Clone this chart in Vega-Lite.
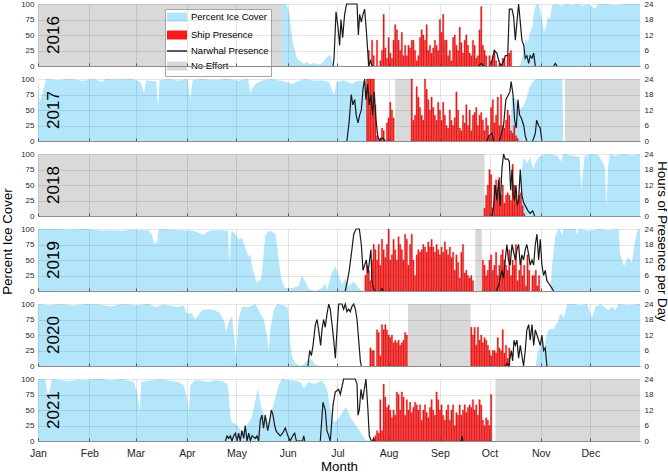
{
"$schema": "https://vega.github.io/schema/vega-lite/v6.json",
"padding": 0,
"spacing": 13,
"bounds": "flush",
"resolve": {"scale": {"color": "independent"}, "legend": {"color": "independent"}},
"config": {
  "view": {"stroke": null},
  "font": "Liberation Sans",
  "axis": {"labelFont": "Liberation Sans", "titleFont": "Liberation Sans", "labelColor": "#262626", "titleColor": "#000000", "titleFontWeight": "normal", "gridColor": "#262626", "gridOpacity": 0.12, "domainColor": "#8c8c8c", "tickColor": "#555555", "labelFontSize": 8}
},
"datasets": {
"yrs": [{"y":2016,"t":"2016"},{"y":2017,"t":"2017"},{"y":2018,"t":"2018"},{"y":2019,"t":"2019"},{"y":2020,"t":"2020"},{"y":2021,"t":"2021"}],
"eff": [{"y":2016,"d":1,"d2":148.5},{"y":2017,"d":217,"d2":227.1},{"y":2017,"d":319.6,"d2":365},{"y":2018,"d":1,"d2":271},{"y":2019,"d":265.4,"d2":269.4},{"y":2020,"d":224.7,"d2":262.6},{"y":2021,"d":277.6,"d2":365}],
"ice": [
{"y":2016,"d":148.5,"v":100},{"y":2016,"d":151,"v":100},{"y":2016,"d":152.8,"v":88},{"y":2016,"d":154,"v":60},{"y":2016,"d":155.2,"v":35},{"y":2016,"d":156.4,"v":25},{"y":2016,"d":157.6,"v":12},{"y":2016,"d":159.4,"v":8},{"y":2016,"d":161.8,"v":4},{"y":2016,"d":163.6,"v":6},{"y":2016,"d":165.4,"v":3},{"y":2016,"d":167.9,"v":5},{"y":2016,"d":170.3,"v":2},{"y":2016,"d":172.7,"v":5},{"y":2016,"d":175.1,"v":12},{"y":2016,"d":176.9,"v":18},{"y":2016,"d":178.2,"v":15},{"y":2016,"d":179.4,"v":0},{"y":2016,"d":292.4,"v":0},{"y":2016,"d":293.6,"v":10},{"y":2016,"d":294.8,"v":30},{"y":2016,"d":296,"v":45},{"y":2016,"d":297.3,"v":38},{"y":2016,"d":298.5,"v":55},{"y":2016,"d":299.7,"v":60},{"y":2016,"d":300.9,"v":85},{"y":2016,"d":302.1,"v":100},{"y":2016,"d":303.9,"v":98},{"y":2016,"d":305.7,"v":75},{"y":2016,"d":306.9,"v":55},{"y":2016,"d":308.1,"v":62},{"y":2016,"d":309.4,"v":80},{"y":2016,"d":310.6,"v":75},{"y":2016,"d":311.8,"v":98},{"y":2016,"d":314.8,"v":100},{"y":2016,"d":317.8,"v":97},{"y":2016,"d":321,"v":100},{"y":2016,"d":324,"v":98},{"y":2016,"d":327,"v":100},{"y":2016,"d":330,"v":97},{"y":2016,"d":334,"v":100},{"y":2016,"d":336,"v":96},{"y":2016,"d":337.8,"v":92},{"y":2016,"d":339.6,"v":99},{"y":2016,"d":344,"v":100},{"y":2016,"d":350,"v":98},{"y":2016,"d":356,"v":100},{"y":2016,"d":365,"v":100},
{"y":2017,"d":1,"v":90},{"y":2017,"d":2,"v":62},{"y":2017,"d":3,"v":70},{"y":2017,"d":4.5,"v":85},{"y":2017,"d":6,"v":100},{"y":2017,"d":12,"v":98},{"y":2017,"d":20,"v":100},{"y":2017,"d":28,"v":97},{"y":2017,"d":35,"v":100},{"y":2017,"d":39.7,"v":95},{"y":2017,"d":42,"v":100},{"y":2017,"d":50,"v":99},{"y":2017,"d":58,"v":100},{"y":2017,"d":63,"v":95},{"y":2017,"d":65,"v":78},{"y":2017,"d":66.5,"v":98},{"y":2017,"d":72.5,"v":96},{"y":2017,"d":73.6,"v":53},{"y":2017,"d":74.5,"v":98},{"y":2017,"d":80,"v":100},{"y":2017,"d":86,"v":97},{"y":2017,"d":91.5,"v":100},{"y":2017,"d":93,"v":68},{"y":2017,"d":94.5,"v":98},{"y":2017,"d":100,"v":100},{"y":2017,"d":108,"v":98},{"y":2017,"d":115,"v":100},{"y":2017,"d":122,"v":97},{"y":2017,"d":128,"v":100},{"y":2017,"d":129.4,"v":78},{"y":2017,"d":130.5,"v":85},{"y":2017,"d":132.4,"v":92},{"y":2017,"d":136,"v":97},{"y":2017,"d":142,"v":100},{"y":2017,"d":150,"v":96},{"y":2017,"d":154.6,"v":92},{"y":2017,"d":157,"v":95},{"y":2017,"d":162,"v":100},{"y":2017,"d":168,"v":97},{"y":2017,"d":172,"v":98},{"y":2017,"d":177,"v":95},{"y":2017,"d":178.8,"v":82},{"y":2017,"d":180.2,"v":76},{"y":2017,"d":181.5,"v":95},{"y":2017,"d":186,"v":98},{"y":2017,"d":190.8,"v":92},{"y":2017,"d":194,"v":97},{"y":2017,"d":199.5,"v":96},{"y":2017,"d":200.5,"v":0},{"y":2017,"d":286.5,"v":0},{"y":2017,"d":287.5,"v":70},{"y":2017,"d":290,"v":68},{"y":2017,"d":292,"v":50},{"y":2017,"d":294,"v":55},{"y":2017,"d":296,"v":65},{"y":2017,"d":298,"v":85},{"y":2017,"d":300,"v":95},{"y":2017,"d":302,"v":100},{"y":2017,"d":310,"v":100},{"y":2017,"d":318,"v":100},{"y":2017,"d":318.6,"v":0},
{"y":2018,"d":293,"v":0},{"y":2018,"d":293.3,"v":70},{"y":2018,"d":294.7,"v":95},{"y":2018,"d":296.6,"v":85},{"y":2018,"d":298.6,"v":95},{"y":2018,"d":300.6,"v":75},{"y":2018,"d":301.6,"v":85},{"y":2018,"d":303.7,"v":95},{"y":2018,"d":305.7,"v":98},{"y":2018,"d":310,"v":100},{"y":2018,"d":315,"v":97},{"y":2018,"d":317.4,"v":88},{"y":2018,"d":318.5,"v":100},{"y":2018,"d":323,"v":98},{"y":2018,"d":328.5,"v":95},{"y":2018,"d":329.5,"v":40},{"y":2018,"d":330.5,"v":70},{"y":2018,"d":331.5,"v":97},{"y":2018,"d":336,"v":100},{"y":2018,"d":340,"v":98},{"y":2018,"d":343.7,"v":80},{"y":2018,"d":344.7,"v":15},{"y":2018,"d":345.7,"v":80},{"y":2018,"d":346.7,"v":100},{"y":2018,"d":350,"v":97},{"y":2018,"d":355,"v":100},{"y":2018,"d":360,"v":98},{"y":2018,"d":365,"v":100},
{"y":2019,"d":1,"v":100},{"y":2019,"d":10,"v":100},{"y":2019,"d":20,"v":99},{"y":2019,"d":30,"v":100},{"y":2019,"d":39.7,"v":97},{"y":2019,"d":45,"v":98},{"y":2019,"d":52,"v":97},{"y":2019,"d":59.6,"v":99},{"y":2019,"d":64,"v":98},{"y":2019,"d":67.9,"v":98},{"y":2019,"d":70,"v":90},{"y":2019,"d":71.1,"v":78},{"y":2019,"d":73,"v":78},{"y":2019,"d":74,"v":100},{"y":2019,"d":80,"v":99},{"y":2019,"d":88,"v":98},{"y":2019,"d":95,"v":97},{"y":2019,"d":98.2,"v":94},{"y":2019,"d":101.2,"v":90},{"y":2019,"d":103,"v":95},{"y":2019,"d":106.2,"v":98},{"y":2019,"d":112.2,"v":98},{"y":2019,"d":115.9,"v":97},{"y":2019,"d":116.5,"v":60},{"y":2019,"d":116.9,"v":45},{"y":2019,"d":117.5,"v":80},{"y":2019,"d":117.9,"v":97},{"y":2019,"d":119.3,"v":95},{"y":2019,"d":122.3,"v":83},{"y":2019,"d":124.3,"v":85},{"y":2019,"d":126.3,"v":70},{"y":2019,"d":128.4,"v":55},{"y":2019,"d":129.4,"v":60},{"y":2019,"d":130.4,"v":40},{"y":2019,"d":132,"v":25},{"y":2019,"d":133.4,"v":12},{"y":2019,"d":134.4,"v":18},{"y":2019,"d":135.4,"v":15},{"y":2019,"d":136.4,"v":30},{"y":2019,"d":138.4,"v":90},{"y":2019,"d":140.5,"v":97},{"y":2019,"d":142.5,"v":95},{"y":2019,"d":144.5,"v":92},{"y":2019,"d":145.5,"v":75},{"y":2019,"d":146.5,"v":50},{"y":2019,"d":148.1,"v":20},{"y":2019,"d":149.6,"v":8},{"y":2019,"d":150.5,"v":5},{"y":2019,"d":154.6,"v":5},{"y":2019,"d":158.6,"v":8},{"y":2019,"d":160.6,"v":25},{"y":2019,"d":162.6,"v":15},{"y":2019,"d":164.7,"v":3},{"y":2019,"d":168.7,"v":0},{"y":2019,"d":172.7,"v":5},{"y":2019,"d":174.7,"v":12},{"y":2019,"d":175.7,"v":2},{"y":2019,"d":178.8,"v":30},{"y":2019,"d":180.8,"v":40},{"y":2019,"d":182.8,"v":25},{"y":2019,"d":184.8,"v":10},{"y":2019,"d":186.8,"v":20},{"y":2019,"d":188.8,"v":8},{"y":2019,"d":191.9,"v":15},{"y":2019,"d":194.9,"v":5},{"y":2019,"d":196.9,"v":0},{"y":2019,"d":310.8,"v":0},{"y":2019,"d":311.8,"v":40},{"y":2019,"d":313.8,"v":90},{"y":2019,"d":315.8,"v":100},{"y":2019,"d":316.8,"v":98},{"y":2019,"d":317.8,"v":90},{"y":2019,"d":318.8,"v":100},{"y":2019,"d":325.9,"v":100},{"y":2019,"d":326.9,"v":90},{"y":2019,"d":327.9,"v":100},{"y":2019,"d":334,"v":97},{"y":2019,"d":340,"v":100},{"y":2019,"d":346,"v":98},{"y":2019,"d":352.1,"v":100},{"y":2019,"d":352.9,"v":60},{"y":2019,"d":355.3,"v":40},{"y":2019,"d":357.7,"v":55},{"y":2019,"d":360.1,"v":45},{"y":2019,"d":361.9,"v":80},{"y":2019,"d":363.8,"v":100},{"y":2019,"d":365,"v":100},
{"y":2020,"d":1,"v":100},{"y":2020,"d":8,"v":98},{"y":2020,"d":15,"v":100},{"y":2020,"d":22,"v":97},{"y":2020,"d":30,"v":100},{"y":2020,"d":38,"v":99},{"y":2020,"d":45,"v":96},{"y":2020,"d":52,"v":100},{"y":2020,"d":60,"v":98},{"y":2020,"d":68,"v":100},{"y":2020,"d":72,"v":95},{"y":2020,"d":76,"v":99},{"y":2020,"d":82,"v":97},{"y":2020,"d":85,"v":95},{"y":2020,"d":89,"v":97},{"y":2020,"d":91,"v":85},{"y":2020,"d":94,"v":85},{"y":2020,"d":96,"v":75},{"y":2020,"d":98,"v":82},{"y":2020,"d":100,"v":90},{"y":2020,"d":104,"v":92},{"y":2020,"d":108,"v":90},{"y":2020,"d":111,"v":85},{"y":2020,"d":113.9,"v":70},{"y":2020,"d":114.7,"v":55},{"y":2020,"d":116.3,"v":70},{"y":2020,"d":118.3,"v":80},{"y":2020,"d":119.9,"v":40},{"y":2020,"d":120.7,"v":15},{"y":2020,"d":122.3,"v":75},{"y":2020,"d":124.3,"v":95},{"y":2020,"d":128.4,"v":95},{"y":2020,"d":132.4,"v":100},{"y":2020,"d":134.4,"v":90},{"y":2020,"d":137.5,"v":75},{"y":2020,"d":139.5,"v":50},{"y":2020,"d":140.5,"v":25},{"y":2020,"d":141.5,"v":60},{"y":2020,"d":143.5,"v":90},{"y":2020,"d":145.5,"v":100},{"y":2020,"d":150.5,"v":97},{"y":2020,"d":152.1,"v":92},{"y":2020,"d":153.5,"v":40},{"y":2020,"d":154.6,"v":15},{"y":2020,"d":156.6,"v":5},{"y":2020,"d":159.6,"v":0},{"y":2020,"d":161.7,"v":3},{"y":2020,"d":163.6,"v":8},{"y":2020,"d":166.7,"v":10},{"y":2020,"d":168.7,"v":2},{"y":2020,"d":170.7,"v":0},{"y":2020,"d":302,"v":0},{"y":2020,"d":303,"v":20},{"y":2020,"d":305,"v":35},{"y":2020,"d":306,"v":45},{"y":2020,"d":307,"v":30},{"y":2020,"d":309,"v":55},{"y":2020,"d":311,"v":60},{"y":2020,"d":313,"v":60},{"y":2020,"d":315,"v":70},{"y":2020,"d":317,"v":85},{"y":2020,"d":319,"v":78},{"y":2020,"d":321,"v":100},{"y":2020,"d":325,"v":100},{"y":2020,"d":329,"v":98},{"y":2020,"d":333,"v":100},{"y":2020,"d":336,"v":78},{"y":2020,"d":338,"v":95},{"y":2020,"d":341,"v":100},{"y":2020,"d":346,"v":90},{"y":2020,"d":348,"v":96},{"y":2020,"d":350,"v":90},{"y":2020,"d":352,"v":100},{"y":2020,"d":358,"v":98},{"y":2020,"d":365,"v":100},
{"y":2021,"d":1,"v":100},{"y":2021,"d":5.4,"v":100},{"y":2021,"d":6.5,"v":80},{"y":2021,"d":7.3,"v":65},{"y":2021,"d":8.3,"v":85},{"y":2021,"d":9.5,"v":100},{"y":2021,"d":15,"v":98},{"y":2021,"d":19.5,"v":96},{"y":2021,"d":25,"v":99},{"y":2021,"d":29.6,"v":98},{"y":2021,"d":35,"v":100},{"y":2021,"d":39.7,"v":100},{"y":2021,"d":45,"v":98},{"y":2021,"d":52,"v":100},{"y":2021,"d":58.9,"v":95},{"y":2021,"d":60.9,"v":80},{"y":2021,"d":62.5,"v":48},{"y":2021,"d":63.5,"v":95},{"y":2021,"d":69.9,"v":98},{"y":2021,"d":75,"v":100},{"y":2021,"d":80,"v":97},{"y":2021,"d":86.1,"v":95},{"y":2021,"d":89.1,"v":90},{"y":2021,"d":91.1,"v":70},{"y":2021,"d":92.1,"v":45},{"y":2021,"d":93.1,"v":90},{"y":2021,"d":96.1,"v":98},{"y":2021,"d":100,"v":97},{"y":2021,"d":104.2,"v":95},{"y":2021,"d":108,"v":98},{"y":2021,"d":112.2,"v":97},{"y":2021,"d":115.3,"v":92},{"y":2021,"d":116.3,"v":80},{"y":2021,"d":117.3,"v":40},{"y":2021,"d":118.3,"v":30},{"y":2021,"d":120.3,"v":28},{"y":2021,"d":122.3,"v":22},{"y":2021,"d":124.3,"v":15},{"y":2021,"d":126.3,"v":20},{"y":2021,"d":128.4,"v":30},{"y":2021,"d":130.4,"v":40},{"y":2021,"d":132.4,"v":65},{"y":2021,"d":134,"v":85},{"y":2021,"d":134.8,"v":70},{"y":2021,"d":136.4,"v":50},{"y":2021,"d":138.4,"v":40},{"y":2021,"d":140.5,"v":30},{"y":2021,"d":142.5,"v":50},{"y":2021,"d":144.5,"v":70},{"y":2021,"d":146.5,"v":90},{"y":2021,"d":148.5,"v":100},{"y":2021,"d":152.6,"v":98},{"y":2021,"d":156.6,"v":97},{"y":2021,"d":159.6,"v":95},{"y":2021,"d":161.7,"v":85},{"y":2021,"d":164.7,"v":95},{"y":2021,"d":167.7,"v":92},{"y":2021,"d":170.7,"v":95},{"y":2021,"d":172.7,"v":98},{"y":2021,"d":175.7,"v":85},{"y":2021,"d":177.5,"v":55},{"y":2021,"d":179.9,"v":30},{"y":2021,"d":182.4,"v":35},{"y":2021,"d":184.8,"v":45},{"y":2021,"d":187.2,"v":55},{"y":2021,"d":189.6,"v":40},{"y":2021,"d":192,"v":30},{"y":2021,"d":194.5,"v":20},{"y":2021,"d":196.9,"v":10},{"y":2021,"d":198.7,"v":3},{"y":2021,"d":200.5,"v":0}
],
"ship": [
{"y":2016,"d":201,"v":6},{"y":2016,"d":203,"v":10},{"y":2016,"d":204,"v":4},{"y":2016,"d":206,"v":10},{"y":2016,"d":208,"v":2},{"y":2016,"d":209,"v":6},{"y":2016,"d":210,"v":20},{"y":2016,"d":211,"v":7},{"y":2016,"d":212,"v":3},{"y":2016,"d":213,"v":11},{"y":2016,"d":214,"v":5},{"y":2016,"d":215,"v":3},{"y":2016,"d":216,"v":10},{"y":2016,"d":217,"v":16},{"y":2016,"d":218,"v":14},{"y":2016,"d":219,"v":10},{"y":2016,"d":220,"v":6},{"y":2016,"d":221,"v":13},{"y":2016,"d":222,"v":4},{"y":2016,"d":223,"v":8},{"y":2016,"d":224,"v":4},{"y":2016,"d":225,"v":8},{"y":2016,"d":226,"v":7},{"y":2016,"d":227,"v":10},{"y":2016,"d":228,"v":10},{"y":2016,"d":229,"v":6},{"y":2016,"d":230,"v":2},{"y":2016,"d":231,"v":4},{"y":2016,"d":232,"v":11},{"y":2016,"d":233,"v":14},{"y":2016,"d":234,"v":12},{"y":2016,"d":235,"v":10},{"y":2016,"d":236,"v":16},{"y":2016,"d":237,"v":6},{"y":2016,"d":238,"v":8},{"y":2016,"d":239,"v":5},{"y":2016,"d":240,"v":7},{"y":2016,"d":241,"v":10},{"y":2016,"d":242,"v":8},{"y":2016,"d":243,"v":6},{"y":2016,"d":244,"v":18},{"y":2016,"d":245,"v":13},{"y":2016,"d":246,"v":20},{"y":2016,"d":247,"v":10},{"y":2016,"d":248,"v":10},{"y":2016,"d":249,"v":4},{"y":2016,"d":250,"v":6},{"y":2016,"d":251,"v":2},{"y":2016,"d":252,"v":11},{"y":2016,"d":253,"v":12},{"y":2016,"d":254,"v":8},{"y":2016,"d":255,"v":6},{"y":2016,"d":256,"v":15},{"y":2016,"d":257,"v":9},{"y":2016,"d":258,"v":5},{"y":2016,"d":259,"v":10},{"y":2016,"d":260,"v":12},{"y":2016,"d":261,"v":8},{"y":2016,"d":262,"v":5},{"y":2016,"d":263,"v":4},{"y":2016,"d":264,"v":10},{"y":2016,"d":265,"v":8},{"y":2016,"d":266,"v":3},{"y":2016,"d":267,"v":4},{"y":2016,"d":268,"v":14},{"y":2016,"d":269,"v":23},{"y":2016,"d":270,"v":8},{"y":2016,"d":271,"v":6},{"y":2016,"d":272,"v":4},{"y":2016,"d":274,"v":4},{"y":2016,"d":275,"v":2},{"y":2016,"d":276,"v":4},{"y":2016,"d":277,"v":6},{"y":2016,"d":278,"v":2},{"y":2016,"d":280,"v":1},{"y":2016,"d":282,"v":3},{"y":2016,"d":283,"v":3},{"y":2016,"d":285,"v":4},{"y":2016,"d":286,"v":5},{"y":2016,"d":287,"v":6},
{"y":2017,"d":200,"v":24},{"y":2017,"d":201,"v":24},{"y":2017,"d":202,"v":24},{"y":2017,"d":203,"v":24},{"y":2017,"d":204,"v":24},{"y":2017,"d":205,"v":14},{"y":2017,"d":206,"v":2},{"y":2017,"d":208,"v":1},{"y":2017,"d":209,"v":5},{"y":2017,"d":210,"v":4},{"y":2017,"d":212,"v":7},{"y":2017,"d":213,"v":9},{"y":2017,"d":214,"v":15},{"y":2017,"d":215,"v":12},{"y":2017,"d":216,"v":9},{"y":2017,"d":227,"v":24},{"y":2017,"d":228,"v":8},{"y":2017,"d":229,"v":10},{"y":2017,"d":230,"v":21},{"y":2017,"d":231,"v":17},{"y":2017,"d":232,"v":13},{"y":2017,"d":233,"v":10},{"y":2017,"d":234,"v":8},{"y":2017,"d":235,"v":24},{"y":2017,"d":236,"v":20},{"y":2017,"d":237,"v":16},{"y":2017,"d":238,"v":12},{"y":2017,"d":239,"v":17},{"y":2017,"d":240,"v":13},{"y":2017,"d":241,"v":10},{"y":2017,"d":242,"v":8},{"y":2017,"d":243,"v":15},{"y":2017,"d":244,"v":12},{"y":2017,"d":245,"v":8},{"y":2017,"d":246,"v":15},{"y":2017,"d":247,"v":10},{"y":2017,"d":248,"v":6},{"y":2017,"d":249,"v":5},{"y":2017,"d":250,"v":12},{"y":2017,"d":251,"v":8},{"y":2017,"d":252,"v":6},{"y":2017,"d":253,"v":9},{"y":2017,"d":254,"v":19},{"y":2017,"d":255,"v":12},{"y":2017,"d":256,"v":5},{"y":2017,"d":257,"v":4},{"y":2017,"d":258,"v":10},{"y":2017,"d":259,"v":7},{"y":2017,"d":260,"v":14},{"y":2017,"d":261,"v":6},{"y":2017,"d":262,"v":12},{"y":2017,"d":263,"v":4},{"y":2017,"d":264,"v":10},{"y":2017,"d":265,"v":11},{"y":2017,"d":266,"v":13},{"y":2017,"d":267,"v":6},{"y":2017,"d":268,"v":10},{"y":2017,"d":269,"v":11},{"y":2017,"d":270,"v":8},{"y":2017,"d":271,"v":4},{"y":2017,"d":272,"v":9},{"y":2017,"d":273,"v":6},{"y":2017,"d":274,"v":2},{"y":2017,"d":275,"v":13},{"y":2017,"d":276,"v":16},{"y":2017,"d":277,"v":7},{"y":2017,"d":278,"v":10},{"y":2017,"d":279,"v":17},{"y":2017,"d":280,"v":6},{"y":2017,"d":281,"v":18},{"y":2017,"d":282,"v":6},{"y":2017,"d":283,"v":5},{"y":2017,"d":284,"v":8},{"y":2017,"d":285,"v":12},{"y":2017,"d":286,"v":10},{"y":2017,"d":287,"v":4},{"y":2017,"d":288,"v":3},{"y":2017,"d":289,"v":6},{"y":2017,"d":290,"v":2},{"y":2017,"d":291,"v":1},
{"y":2018,"d":271,"v":3},{"y":2018,"d":272,"v":8},{"y":2018,"d":273,"v":12},{"y":2018,"d":274,"v":18},{"y":2018,"d":275,"v":16},{"y":2018,"d":276,"v":3},{"y":2018,"d":277,"v":12},{"y":2018,"d":278,"v":14},{"y":2018,"d":279,"v":10},{"y":2018,"d":280,"v":15},{"y":2018,"d":281,"v":8},{"y":2018,"d":282,"v":12},{"y":2018,"d":283,"v":5},{"y":2018,"d":284,"v":8},{"y":2018,"d":285,"v":9},{"y":2018,"d":286,"v":8},{"y":2018,"d":287,"v":6},{"y":2018,"d":288,"v":20},{"y":2018,"d":289,"v":12},{"y":2018,"d":290,"v":10},{"y":2018,"d":291,"v":6},{"y":2018,"d":292,"v":8},{"y":2018,"d":293,"v":9},{"y":2018,"d":294,"v":4},{"y":2018,"d":295,"v":1},
{"y":2019,"d":199,"v":6},{"y":2019,"d":200,"v":10},{"y":2019,"d":201,"v":8},{"y":2019,"d":202,"v":4},{"y":2019,"d":203,"v":12},{"y":2019,"d":204,"v":18},{"y":2019,"d":205,"v":16},{"y":2019,"d":206,"v":12},{"y":2019,"d":207,"v":18},{"y":2019,"d":208,"v":10},{"y":2019,"d":209,"v":20},{"y":2019,"d":210,"v":16},{"y":2019,"d":211,"v":13},{"y":2019,"d":212,"v":18},{"y":2019,"d":213,"v":24},{"y":2019,"d":214,"v":12},{"y":2019,"d":215,"v":14},{"y":2019,"d":216,"v":20},{"y":2019,"d":217,"v":16},{"y":2019,"d":218,"v":12},{"y":2019,"d":219,"v":21},{"y":2019,"d":220,"v":18},{"y":2019,"d":221,"v":16},{"y":2019,"d":222,"v":12},{"y":2019,"d":223,"v":22},{"y":2019,"d":224,"v":20},{"y":2019,"d":225,"v":10},{"y":2019,"d":226,"v":18},{"y":2019,"d":227,"v":22},{"y":2019,"d":228,"v":12},{"y":2019,"d":229,"v":6},{"y":2019,"d":230,"v":14},{"y":2019,"d":231,"v":16},{"y":2019,"d":232,"v":15},{"y":2019,"d":233,"v":16},{"y":2019,"d":234,"v":18},{"y":2019,"d":235,"v":17},{"y":2019,"d":236,"v":15},{"y":2019,"d":237,"v":19},{"y":2019,"d":238,"v":17},{"y":2019,"d":239,"v":20},{"y":2019,"d":240,"v":17},{"y":2019,"d":241,"v":15},{"y":2019,"d":242,"v":18},{"y":2019,"d":243,"v":16},{"y":2019,"d":244,"v":14},{"y":2019,"d":245,"v":17},{"y":2019,"d":246,"v":15},{"y":2019,"d":247,"v":19},{"y":2019,"d":248,"v":16},{"y":2019,"d":249,"v":14},{"y":2019,"d":250,"v":17},{"y":2019,"d":251,"v":13},{"y":2019,"d":252,"v":15},{"y":2019,"d":253,"v":8},{"y":2019,"d":254,"v":14},{"y":2019,"d":255,"v":11},{"y":2019,"d":256,"v":5},{"y":2019,"d":257,"v":15},{"y":2019,"d":258,"v":18},{"y":2019,"d":259,"v":7},{"y":2019,"d":260,"v":8},{"y":2019,"d":261,"v":6},{"y":2019,"d":262,"v":5},{"y":2019,"d":263,"v":6},{"y":2019,"d":264,"v":4},{"y":2019,"d":270,"v":12},{"y":2019,"d":271,"v":10},{"y":2019,"d":272,"v":6},{"y":2019,"d":273,"v":8},{"y":2019,"d":274,"v":12},{"y":2019,"d":275,"v":14},{"y":2019,"d":276,"v":8},{"y":2019,"d":277,"v":10},{"y":2019,"d":278,"v":15},{"y":2019,"d":279,"v":6},{"y":2019,"d":280,"v":10},{"y":2019,"d":281,"v":14},{"y":2019,"d":282,"v":16},{"y":2019,"d":283,"v":12},{"y":2019,"d":284,"v":10},{"y":2019,"d":285,"v":8},{"y":2019,"d":286,"v":16},{"y":2019,"d":287,"v":6},{"y":2019,"d":288,"v":12},{"y":2019,"d":289,"v":10},{"y":2019,"d":290,"v":18},{"y":2019,"d":291,"v":4},{"y":2019,"d":292,"v":8},{"y":2019,"d":293,"v":12},{"y":2019,"d":294,"v":6},{"y":2019,"d":295,"v":10},{"y":2019,"d":296,"v":2},{"y":2019,"d":297,"v":14},{"y":2019,"d":298,"v":8},{"y":2019,"d":300,"v":6},{"y":2019,"d":301,"v":6},{"y":2019,"d":302,"v":8},{"y":2019,"d":303,"v":2},{"y":2019,"d":304,"v":6},
{"y":2020,"d":202,"v":7},{"y":2020,"d":203,"v":6},{"y":2020,"d":204,"v":6},{"y":2020,"d":206,"v":14},{"y":2020,"d":207,"v":13},{"y":2020,"d":208,"v":4},{"y":2020,"d":209,"v":16},{"y":2020,"d":210,"v":14},{"y":2020,"d":211,"v":16},{"y":2020,"d":212,"v":14},{"y":2020,"d":213,"v":12},{"y":2020,"d":214,"v":11},{"y":2020,"d":215,"v":12},{"y":2020,"d":216,"v":9},{"y":2020,"d":217,"v":10},{"y":2020,"d":218,"v":9},{"y":2020,"d":219,"v":10},{"y":2020,"d":220,"v":8},{"y":2020,"d":221,"v":9},{"y":2020,"d":222,"v":10},{"y":2020,"d":223,"v":13},{"y":2020,"d":224,"v":12},{"y":2020,"d":263,"v":15},{"y":2020,"d":264,"v":12},{"y":2020,"d":265,"v":15},{"y":2020,"d":266,"v":8},{"y":2020,"d":267,"v":15},{"y":2020,"d":268,"v":10},{"y":2020,"d":269,"v":12},{"y":2020,"d":270,"v":9},{"y":2020,"d":271,"v":11},{"y":2020,"d":272,"v":10},{"y":2020,"d":273,"v":8},{"y":2020,"d":274,"v":6},{"y":2020,"d":275,"v":4},{"y":2020,"d":276,"v":6},{"y":2020,"d":277,"v":6},{"y":2020,"d":278,"v":5},{"y":2020,"d":279,"v":11},{"y":2020,"d":280,"v":7},{"y":2020,"d":281,"v":6},{"y":2020,"d":282,"v":14},{"y":2020,"d":283,"v":5},{"y":2020,"d":284,"v":8},{"y":2020,"d":285,"v":3},{"y":2020,"d":286,"v":7},
{"y":2021,"d":204,"v":1},{"y":2021,"d":205,"v":2},{"y":2021,"d":206,"v":4},{"y":2021,"d":207,"v":3},{"y":2021,"d":208,"v":16},{"y":2021,"d":209,"v":4},{"y":2021,"d":210,"v":22},{"y":2021,"d":211,"v":17},{"y":2021,"d":212,"v":13},{"y":2021,"d":213,"v":14},{"y":2021,"d":214,"v":12},{"y":2021,"d":215,"v":9},{"y":2021,"d":216,"v":12},{"y":2021,"d":217,"v":10},{"y":2021,"d":218,"v":19},{"y":2021,"d":219,"v":18},{"y":2021,"d":220,"v":12},{"y":2021,"d":221,"v":19},{"y":2021,"d":222,"v":17},{"y":2021,"d":223,"v":10},{"y":2021,"d":224,"v":16},{"y":2021,"d":225,"v":12},{"y":2021,"d":226,"v":15},{"y":2021,"d":227,"v":11},{"y":2021,"d":228,"v":13},{"y":2021,"d":229,"v":15},{"y":2021,"d":230,"v":14},{"y":2021,"d":231,"v":12},{"y":2021,"d":232,"v":14},{"y":2021,"d":233,"v":8},{"y":2021,"d":234,"v":12},{"y":2021,"d":235,"v":14},{"y":2021,"d":236,"v":11},{"y":2021,"d":237,"v":9},{"y":2021,"d":238,"v":13},{"y":2021,"d":239,"v":16},{"y":2021,"d":240,"v":12},{"y":2021,"d":241,"v":10},{"y":2021,"d":242,"v":19},{"y":2021,"d":243,"v":16},{"y":2021,"d":244,"v":12},{"y":2021,"d":245,"v":14},{"y":2021,"d":246,"v":10},{"y":2021,"d":247,"v":8},{"y":2021,"d":248,"v":12},{"y":2021,"d":249,"v":14},{"y":2021,"d":250,"v":8},{"y":2021,"d":251,"v":12},{"y":2021,"d":252,"v":14},{"y":2021,"d":253,"v":6},{"y":2021,"d":254,"v":11},{"y":2021,"d":255,"v":10},{"y":2021,"d":256,"v":14},{"y":2021,"d":257,"v":10},{"y":2021,"d":258,"v":12},{"y":2021,"d":259,"v":14},{"y":2021,"d":260,"v":11},{"y":2021,"d":261,"v":13},{"y":2021,"d":262,"v":14},{"y":2021,"d":263,"v":13},{"y":2021,"d":264,"v":16},{"y":2021,"d":265,"v":12},{"y":2021,"d":266,"v":14},{"y":2021,"d":267,"v":10},{"y":2021,"d":268,"v":16},{"y":2021,"d":269,"v":14},{"y":2021,"d":270,"v":8},{"y":2021,"d":271,"v":6},{"y":2021,"d":272,"v":9},{"y":2021,"d":273,"v":8},{"y":2021,"d":274,"v":6},{"y":2021,"d":275,"v":18}
],
"nar": [
{"y":2016,"s":1,"d":179.4,"v":0},{"y":2016,"s":1,"d":180,"v":3},{"y":2016,"s":1,"d":181.2,"v":21},{"y":2016,"s":1,"d":182.4,"v":15},{"y":2016,"s":1,"d":183.4,"v":8},{"y":2016,"s":1,"d":184.2,"v":18},{"y":2016,"s":1,"d":185.2,"v":11},{"y":2016,"s":1,"d":186.4,"v":20},{"y":2016,"s":1,"d":187.6,"v":24},{"y":2016,"s":1,"d":193.9,"v":24},{"y":2016,"s":1,"d":194.7,"v":12},{"y":2016,"s":1,"d":195.5,"v":20},{"y":2016,"s":1,"d":196.5,"v":17},{"y":2016,"s":1,"d":197.5,"v":20},{"y":2016,"s":1,"d":198.5,"v":22},{"y":2016,"s":1,"d":199.5,"v":14},{"y":2016,"s":1,"d":201,"v":0},{"y":2016,"s":1,"d":202,"v":2},{"y":2016,"s":1,"d":203,"v":0},
{"y":2016,"s":2,"d":267.4,"v":0},{"y":2016,"s":2,"d":269,"v":1},{"y":2016,"s":2,"d":270.5,"v":0},
{"y":2016,"s":3,"d":274.5,"v":0},{"y":2016,"s":3,"d":275.5,"v":2},{"y":2016,"s":3,"d":276.9,"v":6},{"y":2016,"s":3,"d":278.5,"v":5},{"y":2016,"s":3,"d":279.6,"v":2},{"y":2016,"s":3,"d":281,"v":0},{"y":2016,"s":3,"d":282.6,"v":2},{"y":2016,"s":3,"d":283.6,"v":4},{"y":2016,"s":3,"d":285,"v":4},{"y":2016,"s":3,"d":286,"v":22},{"y":2016,"s":3,"d":287.6,"v":22},{"y":2016,"s":3,"d":288.6,"v":19},{"y":2016,"s":3,"d":289.6,"v":10},{"y":2016,"s":3,"d":290.6,"v":17},{"y":2016,"s":3,"d":291.6,"v":24},{"y":2016,"s":3,"d":292.6,"v":17},{"y":2016,"s":3,"d":293.6,"v":10},{"y":2016,"s":3,"d":294.7,"v":8},{"y":2016,"s":3,"d":295.6,"v":3},{"y":2016,"s":3,"d":296.6,"v":4},{"y":2016,"s":3,"d":297.7,"v":1},{"y":2016,"s":3,"d":298.6,"v":4},{"y":2016,"s":3,"d":299.7,"v":3},{"y":2016,"s":3,"d":300.7,"v":5},{"y":2016,"s":3,"d":301.7,"v":0},
{"y":2016,"s":4,"d":312.8,"v":0},{"y":2016,"s":4,"d":313.8,"v":1},{"y":2016,"s":4,"d":314.8,"v":0},
{"y":2017,"s":1,"d":187.8,"v":0},{"y":2017,"s":1,"d":189.2,"v":8},{"y":2017,"s":1,"d":190.4,"v":18},{"y":2017,"s":1,"d":191.4,"v":14},{"y":2017,"s":1,"d":192.5,"v":16},{"y":2017,"s":1,"d":193.4,"v":10},{"y":2017,"s":1,"d":194.5,"v":7},{"y":2017,"s":1,"d":195.5,"v":10},{"y":2017,"s":1,"d":196.5,"v":12},{"y":2017,"s":1,"d":197.5,"v":20},{"y":2017,"s":1,"d":198.5,"v":24},{"y":2017,"s":1,"d":199.3,"v":16},{"y":2017,"s":1,"d":200.3,"v":22},{"y":2017,"s":1,"d":201.3,"v":14},{"y":2017,"s":1,"d":202.3,"v":18},{"y":2017,"s":1,"d":203.3,"v":10},{"y":2017,"s":1,"d":204.3,"v":19},{"y":2017,"s":1,"d":205.4,"v":8},{"y":2017,"s":1,"d":206.4,"v":2},{"y":2017,"s":1,"d":207.4,"v":0},{"y":2017,"s":1,"d":208.4,"v":1},{"y":2017,"s":1,"d":209.6,"v":1},{"y":2017,"s":1,"d":211,"v":0},
{"y":2017,"s":2,"d":272.5,"v":0},{"y":2017,"s":2,"d":273.5,"v":2},{"y":2017,"s":2,"d":275.5,"v":3},{"y":2017,"s":2,"d":276.5,"v":0},
{"y":2017,"s":3,"d":280,"v":0},{"y":2017,"s":3,"d":280.5,"v":1},{"y":2017,"s":3,"d":282.5,"v":6},{"y":2017,"s":3,"d":283.9,"v":16},{"y":2017,"s":3,"d":285.5,"v":18},{"y":2017,"s":3,"d":286.3,"v":19},{"y":2017,"s":3,"d":287.1,"v":23},{"y":2017,"s":3,"d":288.2,"v":18},{"y":2017,"s":3,"d":289.2,"v":8},{"y":2017,"s":3,"d":290.2,"v":5},{"y":2017,"s":3,"d":291.2,"v":16},{"y":2017,"s":3,"d":292.2,"v":10},{"y":2017,"s":3,"d":293.2,"v":9},{"y":2017,"s":3,"d":294.7,"v":6},{"y":2017,"s":3,"d":295.6,"v":2},{"y":2017,"s":3,"d":296.6,"v":0},
{"y":2017,"s":4,"d":300,"v":0},{"y":2017,"s":4,"d":300.7,"v":1},{"y":2017,"s":4,"d":301.7,"v":3},{"y":2017,"s":4,"d":302.5,"v":8},{"y":2017,"s":4,"d":303.7,"v":6},{"y":2017,"s":4,"d":304.7,"v":5},{"y":2017,"s":4,"d":305.7,"v":0},
{"y":2018,"s":1,"d":275.5,"v":0},{"y":2018,"s":1,"d":276.5,"v":4},{"y":2018,"s":1,"d":277.5,"v":12},{"y":2018,"s":1,"d":278.5,"v":6},{"y":2018,"s":1,"d":279.5,"v":14},{"y":2018,"s":1,"d":280.5,"v":4},{"y":2018,"s":1,"d":281.5,"v":18},{"y":2018,"s":1,"d":282.5,"v":24},{"y":2018,"s":1,"d":283.5,"v":22},{"y":2018,"s":1,"d":285.2,"v":22},{"y":2018,"s":1,"d":286,"v":21},{"y":2018,"s":1,"d":286.8,"v":10},{"y":2018,"s":1,"d":287.6,"v":18},{"y":2018,"s":1,"d":288.4,"v":8},{"y":2018,"s":1,"d":289.2,"v":6},{"y":2018,"s":1,"d":290,"v":12},{"y":2018,"s":1,"d":290.8,"v":4},{"y":2018,"s":1,"d":291.6,"v":6},{"y":2018,"s":1,"d":292.6,"v":18},{"y":2018,"s":1,"d":293.6,"v":8},{"y":2018,"s":1,"d":294.7,"v":5},{"y":2018,"s":1,"d":295.6,"v":4},{"y":2018,"s":1,"d":297.3,"v":2},{"y":2018,"s":1,"d":298.6,"v":1},{"y":2018,"s":1,"d":300.1,"v":2},{"y":2018,"s":1,"d":301.3,"v":0},
{"y":2019,"s":1,"d":186.8,"v":0},{"y":2019,"s":1,"d":187.8,"v":3},{"y":2019,"s":1,"d":189.2,"v":8},{"y":2019,"s":1,"d":190.8,"v":16},{"y":2019,"s":1,"d":191.9,"v":22},{"y":2019,"s":1,"d":193.3,"v":24},{"y":2019,"s":1,"d":195.3,"v":24},{"y":2019,"s":1,"d":196.5,"v":18},{"y":2019,"s":1,"d":197.5,"v":8},{"y":2019,"s":1,"d":198.5,"v":10},{"y":2019,"s":1,"d":199.5,"v":12},{"y":2019,"s":1,"d":200.5,"v":7},{"y":2019,"s":1,"d":201.5,"v":12},{"y":2019,"s":1,"d":202.3,"v":16},{"y":2019,"s":1,"d":202.9,"v":4},{"y":2019,"s":1,"d":203.9,"v":1},{"y":2019,"s":1,"d":204.9,"v":0},
{"y":2019,"s":2,"d":208,"v":0},{"y":2019,"s":2,"d":209,"v":1},{"y":2019,"s":2,"d":210,"v":0},
{"y":2019,"s":3,"d":278,"v":0},{"y":2019,"s":3,"d":279.5,"v":2},{"y":2019,"s":3,"d":281.5,"v":8},{"y":2019,"s":3,"d":282.5,"v":5},{"y":2019,"s":3,"d":283.5,"v":12},{"y":2019,"s":3,"d":284.5,"v":18},{"y":2019,"s":3,"d":285.5,"v":12},{"y":2019,"s":3,"d":286.5,"v":10},{"y":2019,"s":3,"d":287.6,"v":18},{"y":2019,"s":3,"d":288.6,"v":15},{"y":2019,"s":3,"d":289.6,"v":12},{"y":2019,"s":3,"d":290.6,"v":16},{"y":2019,"s":3,"d":291.6,"v":18},{"y":2019,"s":3,"d":292.6,"v":10},{"y":2019,"s":3,"d":293.6,"v":14},{"y":2019,"s":3,"d":294.6,"v":12},{"y":2019,"s":3,"d":295.6,"v":16},{"y":2019,"s":3,"d":296.6,"v":18},{"y":2019,"s":3,"d":297.7,"v":14},{"y":2019,"s":3,"d":298.6,"v":10},{"y":2019,"s":3,"d":299.7,"v":12},{"y":2019,"s":3,"d":300.7,"v":10},{"y":2019,"s":3,"d":301.7,"v":18},{"y":2019,"s":3,"d":302.7,"v":22},{"y":2019,"s":3,"d":303.7,"v":12},{"y":2019,"s":3,"d":304.7,"v":20},{"y":2019,"s":3,"d":305.7,"v":10},{"y":2019,"s":3,"d":306.7,"v":6},{"y":2019,"s":3,"d":307.7,"v":8},{"y":2019,"s":3,"d":308.7,"v":4},{"y":2019,"s":3,"d":309.8,"v":3},{"y":2019,"s":3,"d":311.8,"v":1},{"y":2019,"s":3,"d":312.8,"v":0},
{"y":2020,"s":1,"d":164.2,"v":0},{"y":2020,"s":1,"d":165.3,"v":6},{"y":2020,"s":1,"d":166.3,"v":4},{"y":2020,"s":1,"d":167.3,"v":8},{"y":2020,"s":1,"d":168.7,"v":16},{"y":2020,"s":1,"d":169.7,"v":18},{"y":2020,"s":1,"d":170.7,"v":14},{"y":2020,"s":1,"d":171.9,"v":8},{"y":2020,"s":1,"d":172.7,"v":14},{"y":2020,"s":1,"d":173.7,"v":18},{"y":2020,"s":1,"d":174.7,"v":15},{"y":2020,"s":1,"d":175.7,"v":20},{"y":2020,"s":1,"d":176.8,"v":24},{"y":2020,"s":1,"d":177.7,"v":22},{"y":2020,"s":1,"d":178.8,"v":16},{"y":2020,"s":1,"d":179.8,"v":10},{"y":2020,"s":1,"d":180.8,"v":3},{"y":2020,"s":1,"d":181.8,"v":14},{"y":2020,"s":1,"d":182.8,"v":24},{"y":2020,"s":1,"d":184.8,"v":24},{"y":2020,"s":1,"d":185.8,"v":22},{"y":2020,"s":1,"d":186.8,"v":24},{"y":2020,"s":1,"d":187.8,"v":21},{"y":2020,"s":1,"d":188.8,"v":22},{"y":2020,"s":1,"d":189.8,"v":21},{"y":2020,"s":1,"d":190.8,"v":23},{"y":2020,"s":1,"d":191.9,"v":24},{"y":2020,"s":1,"d":192.9,"v":22},{"y":2020,"s":1,"d":193.9,"v":18},{"y":2020,"s":1,"d":194.9,"v":10},{"y":2020,"s":1,"d":195.9,"v":2},{"y":2020,"s":1,"d":196.5,"v":0},
{"y":2020,"s":2,"d":283.6,"v":0},{"y":2020,"s":2,"d":284.6,"v":1},{"y":2020,"s":2,"d":285.6,"v":0},{"y":2020,"s":2,"d":287.2,"v":6},{"y":2020,"s":2,"d":288,"v":2},{"y":2020,"s":2,"d":288.8,"v":10},{"y":2020,"s":2,"d":289.6,"v":8},{"y":2020,"s":2,"d":290.6,"v":10},{"y":2020,"s":2,"d":291.6,"v":3},{"y":2020,"s":2,"d":292.6,"v":8},{"y":2020,"s":2,"d":293.6,"v":4},{"y":2020,"s":2,"d":294.6,"v":0},{"y":2020,"s":2,"d":295.6,"v":6},{"y":2020,"s":2,"d":296.6,"v":14},{"y":2020,"s":2,"d":297.7,"v":16},{"y":2020,"s":2,"d":298.6,"v":10},{"y":2020,"s":2,"d":299.7,"v":16},{"y":2020,"s":2,"d":300.7,"v":8},{"y":2020,"s":2,"d":301.7,"v":14},{"y":2020,"s":2,"d":302.7,"v":12},{"y":2020,"s":2,"d":303.7,"v":10},{"y":2020,"s":2,"d":304.7,"v":8},{"y":2020,"s":2,"d":305.7,"v":12},{"y":2020,"s":2,"d":306.7,"v":6},{"y":2020,"s":2,"d":307.7,"v":7},{"y":2020,"s":2,"d":308.7,"v":0},
{"y":2021,"s":1,"d":114.3,"v":0},{"y":2021,"s":1,"d":115.3,"v":2},{"y":2021,"s":1,"d":116.3,"v":1},{"y":2021,"s":1,"d":117.3,"v":2},{"y":2021,"s":1,"d":118.3,"v":0},{"y":2021,"s":1,"d":119.3,"v":2},{"y":2021,"s":1,"d":120.3,"v":3},{"y":2021,"s":1,"d":121.3,"v":0},{"y":2021,"s":1,"d":122.3,"v":3},{"y":2021,"s":1,"d":123.3,"v":0},{"y":2021,"s":1,"d":124.3,"v":4},{"y":2021,"s":1,"d":125.4,"v":1},{"y":2021,"s":1,"d":126.3,"v":6},{"y":2021,"s":1,"d":127.4,"v":0},{"y":2021,"s":1,"d":128.4,"v":3},{"y":2021,"s":1,"d":129.4,"v":0},{"y":2021,"s":1,"d":130.4,"v":2},{"y":2021,"s":1,"d":132.4,"v":1},{"y":2021,"s":1,"d":133.4,"v":2},{"y":2021,"s":1,"d":134.4,"v":0},{"y":2021,"s":1,"d":135.4,"v":8},{"y":2021,"s":1,"d":136.4,"v":10},{"y":2021,"s":1,"d":137.4,"v":5},{"y":2021,"s":1,"d":138.4,"v":10},{"y":2021,"s":1,"d":139.9,"v":4},{"y":2021,"s":1,"d":141.1,"v":8},{"y":2021,"s":1,"d":142.1,"v":12},{"y":2021,"s":1,"d":143.1,"v":10},{"y":2021,"s":1,"d":144.1,"v":6},{"y":2021,"s":1,"d":144.9,"v":4},{"y":2021,"s":1,"d":146.1,"v":3},{"y":2021,"s":1,"d":147.5,"v":2},{"y":2021,"s":1,"d":148.9,"v":3},{"y":2021,"s":1,"d":150.5,"v":5},{"y":2021,"s":1,"d":152.1,"v":2},{"y":2021,"s":1,"d":153.5,"v":0},{"y":2021,"s":1,"d":155,"v":2},{"y":2021,"s":1,"d":156.2,"v":3},{"y":2021,"s":1,"d":157.2,"v":0},{"y":2021,"s":1,"d":161,"v":0},{"y":2021,"s":1,"d":161.7,"v":2},{"y":2021,"s":1,"d":162.3,"v":0},
{"y":2021,"s":2,"d":171.7,"v":0},{"y":2021,"s":2,"d":173.3,"v":15},{"y":2021,"s":2,"d":174.7,"v":12},{"y":2021,"s":2,"d":175.7,"v":4},{"y":2021,"s":2,"d":176.8,"v":2},{"y":2021,"s":2,"d":177.7,"v":0},{"y":2021,"s":2,"d":179.4,"v":14},{"y":2021,"s":2,"d":180.8,"v":19},{"y":2021,"s":2,"d":182.8,"v":20},{"y":2021,"s":2,"d":183.8,"v":18},{"y":2021,"s":2,"d":184.8,"v":21},{"y":2021,"s":2,"d":185.8,"v":24},{"y":2021,"s":2,"d":192.8,"v":24},{"y":2021,"s":2,"d":193.9,"v":22},{"y":2021,"s":2,"d":194.5,"v":10},{"y":2021,"s":2,"d":195.3,"v":12},{"y":2021,"s":2,"d":196.3,"v":20},{"y":2021,"s":2,"d":197.3,"v":16},{"y":2021,"s":2,"d":198.3,"v":20},{"y":2021,"s":2,"d":199.3,"v":24},{"y":2021,"s":2,"d":200.5,"v":12},{"y":2021,"s":2,"d":201.3,"v":2},{"y":2021,"s":2,"d":202.5,"v":0},
{"y":2021,"s":3,"d":203.3,"v":0},{"y":2021,"s":3,"d":203.9,"v":1},{"y":2021,"s":3,"d":204.5,"v":0},
{"y":2021,"s":4,"d":256.8,"v":0},{"y":2021,"s":4,"d":257.4,"v":2},{"y":2021,"s":4,"d":258,"v":0}
]
},
"vconcat": [
{"width":602,"height":62,
 "layer":[
  {"layer":[
   {"data":{"name":"eff"},"transform":[{"filter":"datum.y==2016"}],"mark":{"type":"rect","color":"#d9d9d9"},"encoding":{"x":{"field":"d","type":"quantitative","scale":{"domain":[1,365],"nice":false,"zero":false,"padding":0},"axis":{"values":[1,32,60,91,121,152,182,213,244,274,305,335],"labels":false,"title":null,"grid":true,"domain":true,"ticks":true,"tickSize":-3,"zindex":1}},"x2":{"field":"d2"}}},
   {"data":{"name":"ice"},"transform":[{"filter":"datum.y==2016"}],"mark":{"type":"area","color":"#b3e6fb","opacity":1},"encoding":{"x":{"field":"d","type":"quantitative","axis":{"values":[1,32,60,91,121,152,182,213,244,274,305,335],"labels":false,"title":null,"grid":true,"domain":true,"ticks":true,"tickSize":-3,"zindex":1}},"y":{"field":"v","type":"quantitative","scale":{"domain":[0,100],"nice":false,"zero":true,"padding":0},"axis":{"values":[0,25,50,75,100],"grid":true,"domain":false,"ticks":false,"labelPadding":4,"title":null,"zindex":1}},
     "color":{"datum":"Percent Ice Cover","type":"nominal","scale":{"domain":["Percent Ice Cover","Ship Presence","Narwhal Presence","No Effort"],"range":["#b3e6fb","#ff1a1a","#262626","#d9d9d9"]},
       "legend":{"title":null,"orient":"none","legendX":127,"legendY":5,"direction":"vertical","fillColor":"#ffffff","strokeColor":"#a6a6a6","padding":2,"cornerRadius":0,"labelFont":"Liberation Sans","labelFontSize":9.5,"labelColor":"#000000","labelOffset":8,"symbolOffset":4,"rowPadding":2,"symbolSize":100,"symbolType":"M-2,-0.9H2V0.9H-2Z","symbolOpacity":1,
         "encode":{"symbols":{"update":{
           "shape":{"signal":"datum.value === 'Narwhal Presence' ? 'M-2,0H2' : 'M-2,-0.9H2V0.9H-2Z'"},
           "fill":{"signal":"datum.value === 'Percent Ice Cover' ? '#b3e6fb' : datum.value === 'Ship Presence' ? '#ff1a1a' : datum.value === 'No Effort' ? '#d9d9d9' : 'transparent'"},
           "stroke":{"signal":"datum.value === 'Narwhal Presence' ? '#262626' : 'transparent'"},
           "strokeWidth":{"value":1.5},
           "opacity":{"value":1}}}}}}}},
   {"data":{"name":"yrs"},"transform":[{"filter":"datum.y==2016"}],"mark":{"type":"text","angle":270,"fontSize":17,"font":"Liberation Sans","color":"#000000","align":"center","baseline":"middle"},"encoding":{"x":{"datum":10.5,"type":"quantitative","axis":{"values":[1,32,60,91,121,152,182,213,244,274,305,335],"labels":false,"title":null,"grid":true,"domain":true,"ticks":true,"tickSize":-3,"zindex":1}},"y":{"datum":50,"type":"quantitative","axis":{"values":[0,25,50,75,100],"grid":true,"domain":false,"ticks":false,"labelPadding":4,"title":null,"zindex":1}},"text":{"field":"t","type":"nominal"}}}
  ]},
  {"layer":[
   {"data":{"name":"ship"},"transform":[{"filter":"datum.y==2016"}],"mark":{"type":"bar","orient":"vertical","color":"#ff1a1a","width":1.3,"stroke":"#c40000","strokeWidth":0.3},"encoding":{"x":{"field":"d","type":"quantitative","axis":{"values":[1,32,60,91,121,152,182,213,244,274,305,335],"labels":false,"title":null,"grid":true,"domain":true,"ticks":true,"tickSize":-3,"zindex":1}},"y":{"field":"v","type":"quantitative","scale":{"domain":[0,24],"nice":false,"padding":0},"axis":{"orient":"right","values":[0,6,12,18,24],"grid":false,"domain":false,"ticks":false,"labelPadding":4,"title":null}}}},
   {"data":{"name":"nar"},"transform":[{"filter":"datum.y==2016"}],"mark":{"type":"line","color":"#1a1a1a","strokeWidth":1.2},"encoding":{"x":{"field":"d","type":"quantitative","axis":{"values":[1,32,60,91,121,152,182,213,244,274,305,335],"labels":false,"title":null,"grid":true,"domain":true,"ticks":true,"tickSize":-3,"zindex":1}},"y":{"field":"v","type":"quantitative","axis":{"orient":"right","values":[0,6,12,18,24],"grid":false,"domain":false,"ticks":false,"labelPadding":4,"title":null}},"detail":{"field":"s","type":"nominal"}}}
  ]}
 ],
 "resolve":{"scale":{"y":"independent"}}
},
{"width":602,"height":62,
 "layer":[
  {"layer":[
   {"data":{"name":"eff"},"transform":[{"filter":"datum.y==2017"}],"mark":{"type":"rect","color":"#d9d9d9"},"encoding":{"x":{"field":"d","type":"quantitative","scale":{"domain":[1,365],"nice":false,"zero":false,"padding":0},"axis":{"values":[1,32,60,91,121,152,182,213,244,274,305,335],"labels":false,"title":null,"grid":true,"domain":true,"ticks":true,"tickSize":-3,"zindex":1}},"x2":{"field":"d2"}}},
   {"data":{"name":"ice"},"transform":[{"filter":"datum.y==2017"}],"mark":{"type":"area","color":"#b3e6fb","opacity":1},"encoding":{"x":{"field":"d","type":"quantitative","axis":{"values":[1,32,60,91,121,152,182,213,244,274,305,335],"labels":false,"title":null,"grid":true,"domain":true,"ticks":true,"tickSize":-3,"zindex":1}},"y":{"field":"v","type":"quantitative","scale":{"domain":[0,100],"nice":false,"zero":true,"padding":0},"axis":{"values":[0,25,50,75,100],"grid":true,"domain":false,"ticks":false,"labelPadding":4,"title":null,"zindex":1}}}},
   {"data":{"name":"yrs"},"transform":[{"filter":"datum.y==2017"}],"mark":{"type":"text","angle":270,"fontSize":17,"font":"Liberation Sans","color":"#000000","align":"center","baseline":"middle"},"encoding":{"x":{"datum":10.5,"type":"quantitative","axis":{"values":[1,32,60,91,121,152,182,213,244,274,305,335],"labels":false,"title":null,"grid":true,"domain":true,"ticks":true,"tickSize":-3,"zindex":1}},"y":{"datum":50,"type":"quantitative","axis":{"values":[0,25,50,75,100],"grid":true,"domain":false,"ticks":false,"labelPadding":4,"title":null,"zindex":1}},"text":{"field":"t","type":"nominal"}}}
  ]},
  {"layer":[
   {"data":{"name":"ship"},"transform":[{"filter":"datum.y==2017"}],"mark":{"type":"bar","orient":"vertical","color":"#ff1a1a","width":1.3,"stroke":"#c40000","strokeWidth":0.3},"encoding":{"x":{"field":"d","type":"quantitative","axis":{"values":[1,32,60,91,121,152,182,213,244,274,305,335],"labels":false,"title":null,"grid":true,"domain":true,"ticks":true,"tickSize":-3,"zindex":1}},"y":{"field":"v","type":"quantitative","scale":{"domain":[0,24],"nice":false,"padding":0},"axis":{"orient":"right","values":[0,6,12,18,24],"grid":false,"domain":false,"ticks":false,"labelPadding":4,"title":null}}}},
   {"data":{"name":"nar"},"transform":[{"filter":"datum.y==2017"}],"mark":{"type":"line","color":"#1a1a1a","strokeWidth":1.2},"encoding":{"x":{"field":"d","type":"quantitative","axis":{"values":[1,32,60,91,121,152,182,213,244,274,305,335],"labels":false,"title":null,"grid":true,"domain":true,"ticks":true,"tickSize":-3,"zindex":1}},"y":{"field":"v","type":"quantitative","axis":{"orient":"right","values":[0,6,12,18,24],"grid":false,"domain":false,"ticks":false,"labelPadding":4,"title":null}},"detail":{"field":"s","type":"nominal"}}}
  ]}
 ],
 "resolve":{"scale":{"y":"independent"}}
},
{"width":602,"height":62,
 "layer":[
  {"layer":[
   {"data":{"name":"eff"},"transform":[{"filter":"datum.y==2018"}],"mark":{"type":"rect","color":"#d9d9d9"},"encoding":{"x":{"field":"d","type":"quantitative","scale":{"domain":[1,365],"nice":false,"zero":false,"padding":0},"axis":{"values":[1,32,60,91,121,152,182,213,244,274,305,335],"labels":false,"title":null,"grid":true,"domain":true,"ticks":true,"tickSize":-3,"zindex":1}},"x2":{"field":"d2"}}},
   {"data":{"name":"ice"},"transform":[{"filter":"datum.y==2018"}],"mark":{"type":"area","color":"#b3e6fb","opacity":1},"encoding":{"x":{"field":"d","type":"quantitative","axis":{"values":[1,32,60,91,121,152,182,213,244,274,305,335],"labels":false,"title":null,"grid":true,"domain":true,"ticks":true,"tickSize":-3,"zindex":1}},"y":{"field":"v","type":"quantitative","scale":{"domain":[0,100],"nice":false,"zero":true,"padding":0},"axis":{"values":[0,25,50,75,100],"grid":true,"domain":false,"ticks":false,"labelPadding":4,"zindex":1,"title":"Percent Ice Cover","titleFontSize":13.3,"titleX":-26.5,"titleY":87,"titleAngle":270,"titleAlign":"center","titleBaseline":"alphabetic"}}}},
   {"data":{"name":"yrs"},"transform":[{"filter":"datum.y==2018"}],"mark":{"type":"text","angle":270,"fontSize":17,"font":"Liberation Sans","color":"#000000","align":"center","baseline":"middle"},"encoding":{"x":{"datum":10.5,"type":"quantitative","axis":{"values":[1,32,60,91,121,152,182,213,244,274,305,335],"labels":false,"title":null,"grid":true,"domain":true,"ticks":true,"tickSize":-3,"zindex":1}},"y":{"datum":50,"type":"quantitative","axis":{"values":[0,25,50,75,100],"grid":true,"domain":false,"ticks":false,"labelPadding":4,"zindex":1,"title":"Percent Ice Cover","titleFontSize":13.3,"titleX":-26.5,"titleY":87,"titleAngle":270,"titleAlign":"center","titleBaseline":"alphabetic"}},"text":{"field":"t","type":"nominal"}}}
  ]},
  {"layer":[
   {"data":{"name":"ship"},"transform":[{"filter":"datum.y==2018"}],"mark":{"type":"bar","orient":"vertical","color":"#ff1a1a","width":1.3,"stroke":"#c40000","strokeWidth":0.3},"encoding":{"x":{"field":"d","type":"quantitative","axis":{"values":[1,32,60,91,121,152,182,213,244,274,305,335],"labels":false,"title":null,"grid":true,"domain":true,"ticks":true,"tickSize":-3,"zindex":1}},"y":{"field":"v","type":"quantitative","scale":{"domain":[0,24],"nice":false,"padding":0},"axis":{"orient":"right","values":[0,6,12,18,24],"grid":false,"domain":false,"ticks":false,"labelPadding":4,"title":"Hours of Presence per Day","titleFontSize":13.3,"titleX":17,"titleY":87,"titleAngle":90,"titleAlign":"center","titleBaseline":"alphabetic"}}}},
   {"data":{"name":"nar"},"transform":[{"filter":"datum.y==2018"}],"mark":{"type":"line","color":"#1a1a1a","strokeWidth":1.2},"encoding":{"x":{"field":"d","type":"quantitative","axis":{"values":[1,32,60,91,121,152,182,213,244,274,305,335],"labels":false,"title":null,"grid":true,"domain":true,"ticks":true,"tickSize":-3,"zindex":1}},"y":{"field":"v","type":"quantitative","axis":{"orient":"right","values":[0,6,12,18,24],"grid":false,"domain":false,"ticks":false,"labelPadding":4,"title":"Hours of Presence per Day","titleFontSize":13.3,"titleX":17,"titleY":87,"titleAngle":90,"titleAlign":"center","titleBaseline":"alphabetic"}},"detail":{"field":"s","type":"nominal"}}}
  ]}
 ],
 "resolve":{"scale":{"y":"independent"}}
},
{"width":602,"height":62,
 "layer":[
  {"layer":[
   {"data":{"name":"eff"},"transform":[{"filter":"datum.y==2019"}],"mark":{"type":"rect","color":"#d9d9d9"},"encoding":{"x":{"field":"d","type":"quantitative","scale":{"domain":[1,365],"nice":false,"zero":false,"padding":0},"axis":{"values":[1,32,60,91,121,152,182,213,244,274,305,335],"labels":false,"title":null,"grid":true,"domain":true,"ticks":true,"tickSize":-3,"zindex":1}},"x2":{"field":"d2"}}},
   {"data":{"name":"ice"},"transform":[{"filter":"datum.y==2019"}],"mark":{"type":"area","color":"#b3e6fb","opacity":1},"encoding":{"x":{"field":"d","type":"quantitative","axis":{"values":[1,32,60,91,121,152,182,213,244,274,305,335],"labels":false,"title":null,"grid":true,"domain":true,"ticks":true,"tickSize":-3,"zindex":1}},"y":{"field":"v","type":"quantitative","scale":{"domain":[0,100],"nice":false,"zero":true,"padding":0},"axis":{"values":[0,25,50,75,100],"grid":true,"domain":false,"ticks":false,"labelPadding":4,"title":null,"zindex":1}}}},
   {"data":{"name":"yrs"},"transform":[{"filter":"datum.y==2019"}],"mark":{"type":"text","angle":270,"fontSize":17,"font":"Liberation Sans","color":"#000000","align":"center","baseline":"middle"},"encoding":{"x":{"datum":10.5,"type":"quantitative","axis":{"values":[1,32,60,91,121,152,182,213,244,274,305,335],"labels":false,"title":null,"grid":true,"domain":true,"ticks":true,"tickSize":-3,"zindex":1}},"y":{"datum":50,"type":"quantitative","axis":{"values":[0,25,50,75,100],"grid":true,"domain":false,"ticks":false,"labelPadding":4,"title":null,"zindex":1}},"text":{"field":"t","type":"nominal"}}}
  ]},
  {"layer":[
   {"data":{"name":"ship"},"transform":[{"filter":"datum.y==2019"}],"mark":{"type":"bar","orient":"vertical","color":"#ff1a1a","width":1.3,"stroke":"#c40000","strokeWidth":0.3},"encoding":{"x":{"field":"d","type":"quantitative","axis":{"values":[1,32,60,91,121,152,182,213,244,274,305,335],"labels":false,"title":null,"grid":true,"domain":true,"ticks":true,"tickSize":-3,"zindex":1}},"y":{"field":"v","type":"quantitative","scale":{"domain":[0,24],"nice":false,"padding":0},"axis":{"orient":"right","values":[0,6,12,18,24],"grid":false,"domain":false,"ticks":false,"labelPadding":4,"title":null}}}},
   {"data":{"name":"nar"},"transform":[{"filter":"datum.y==2019"}],"mark":{"type":"line","color":"#1a1a1a","strokeWidth":1.2},"encoding":{"x":{"field":"d","type":"quantitative","axis":{"values":[1,32,60,91,121,152,182,213,244,274,305,335],"labels":false,"title":null,"grid":true,"domain":true,"ticks":true,"tickSize":-3,"zindex":1}},"y":{"field":"v","type":"quantitative","axis":{"orient":"right","values":[0,6,12,18,24],"grid":false,"domain":false,"ticks":false,"labelPadding":4,"title":null}},"detail":{"field":"s","type":"nominal"}}}
  ]}
 ],
 "resolve":{"scale":{"y":"independent"}}
},
{"width":602,"height":62,
 "layer":[
  {"layer":[
   {"data":{"name":"eff"},"transform":[{"filter":"datum.y==2020"}],"mark":{"type":"rect","color":"#d9d9d9"},"encoding":{"x":{"field":"d","type":"quantitative","scale":{"domain":[1,365],"nice":false,"zero":false,"padding":0},"axis":{"values":[1,32,60,91,121,152,182,213,244,274,305,335],"labels":false,"title":null,"grid":true,"domain":true,"ticks":true,"tickSize":-3,"zindex":1}},"x2":{"field":"d2"}}},
   {"data":{"name":"ice"},"transform":[{"filter":"datum.y==2020"}],"mark":{"type":"area","color":"#b3e6fb","opacity":1},"encoding":{"x":{"field":"d","type":"quantitative","axis":{"values":[1,32,60,91,121,152,182,213,244,274,305,335],"labels":false,"title":null,"grid":true,"domain":true,"ticks":true,"tickSize":-3,"zindex":1}},"y":{"field":"v","type":"quantitative","scale":{"domain":[0,100],"nice":false,"zero":true,"padding":0},"axis":{"values":[0,25,50,75,100],"grid":true,"domain":false,"ticks":false,"labelPadding":4,"title":null,"zindex":1}}}},
   {"data":{"name":"yrs"},"transform":[{"filter":"datum.y==2020"}],"mark":{"type":"text","angle":270,"fontSize":17,"font":"Liberation Sans","color":"#000000","align":"center","baseline":"middle"},"encoding":{"x":{"datum":10.5,"type":"quantitative","axis":{"values":[1,32,60,91,121,152,182,213,244,274,305,335],"labels":false,"title":null,"grid":true,"domain":true,"ticks":true,"tickSize":-3,"zindex":1}},"y":{"datum":50,"type":"quantitative","axis":{"values":[0,25,50,75,100],"grid":true,"domain":false,"ticks":false,"labelPadding":4,"title":null,"zindex":1}},"text":{"field":"t","type":"nominal"}}}
  ]},
  {"layer":[
   {"data":{"name":"ship"},"transform":[{"filter":"datum.y==2020"}],"mark":{"type":"bar","orient":"vertical","color":"#ff1a1a","width":1.3,"stroke":"#c40000","strokeWidth":0.3},"encoding":{"x":{"field":"d","type":"quantitative","axis":{"values":[1,32,60,91,121,152,182,213,244,274,305,335],"labels":false,"title":null,"grid":true,"domain":true,"ticks":true,"tickSize":-3,"zindex":1}},"y":{"field":"v","type":"quantitative","scale":{"domain":[0,24],"nice":false,"padding":0},"axis":{"orient":"right","values":[0,6,12,18,24],"grid":false,"domain":false,"ticks":false,"labelPadding":4,"title":null}}}},
   {"data":{"name":"nar"},"transform":[{"filter":"datum.y==2020"}],"mark":{"type":"line","color":"#1a1a1a","strokeWidth":1.2},"encoding":{"x":{"field":"d","type":"quantitative","axis":{"values":[1,32,60,91,121,152,182,213,244,274,305,335],"labels":false,"title":null,"grid":true,"domain":true,"ticks":true,"tickSize":-3,"zindex":1}},"y":{"field":"v","type":"quantitative","axis":{"orient":"right","values":[0,6,12,18,24],"grid":false,"domain":false,"ticks":false,"labelPadding":4,"title":null}},"detail":{"field":"s","type":"nominal"}}}
  ]}
 ],
 "resolve":{"scale":{"y":"independent"}}
},
{"width":602,"height":62,
 "layer":[
  {"layer":[
   {"data":{"name":"eff"},"transform":[{"filter":"datum.y==2021"}],"mark":{"type":"rect","color":"#d9d9d9"},"encoding":{"x":{"field":"d","type":"quantitative","scale":{"domain":[1,365],"nice":false,"zero":false,"padding":0},"axis":{"values":[1,32,60,91,121,152,182,213,244,274,305,335],"labels":true,"labelExpr":"['Jan','Feb','Mar','Apr','May','Jun','Jul','Aug','Sep','Oct','Nov','Dec'][indexof([1,32,60,91,121,152,182,213,244,274,305,335], datum.value)]","labelFontSize":10.5,"labelPadding":18.5,"labelBaseline":"alphabetic","labelFlush":false,"labelOverlap":false,"title":"Month","titleFontSize":13.3,"titleBaseline":"alphabetic","titleY":29.5,"grid":true,"domain":true,"ticks":true,"tickSize":-3,"zindex":1}},"x2":{"field":"d2"}}},
   {"data":{"name":"ice"},"transform":[{"filter":"datum.y==2021"}],"mark":{"type":"area","color":"#b3e6fb","opacity":1},"encoding":{"x":{"field":"d","type":"quantitative","axis":{"values":[1,32,60,91,121,152,182,213,244,274,305,335],"labels":true,"labelExpr":"['Jan','Feb','Mar','Apr','May','Jun','Jul','Aug','Sep','Oct','Nov','Dec'][indexof([1,32,60,91,121,152,182,213,244,274,305,335], datum.value)]","labelFontSize":10.5,"labelPadding":18.5,"labelBaseline":"alphabetic","labelFlush":false,"labelOverlap":false,"title":"Month","titleFontSize":13.3,"titleBaseline":"alphabetic","titleY":29.5,"grid":true,"domain":true,"ticks":true,"tickSize":-3,"zindex":1}},"y":{"field":"v","type":"quantitative","scale":{"domain":[0,100],"nice":false,"zero":true,"padding":0},"axis":{"values":[0,25,50,75,100],"grid":true,"domain":false,"ticks":false,"labelPadding":4,"title":null,"zindex":1}}}},
   {"data":{"name":"yrs"},"transform":[{"filter":"datum.y==2021"}],"mark":{"type":"text","angle":270,"fontSize":17,"font":"Liberation Sans","color":"#000000","align":"center","baseline":"middle"},"encoding":{"x":{"datum":10.5,"type":"quantitative","axis":{"values":[1,32,60,91,121,152,182,213,244,274,305,335],"labels":true,"labelExpr":"['Jan','Feb','Mar','Apr','May','Jun','Jul','Aug','Sep','Oct','Nov','Dec'][indexof([1,32,60,91,121,152,182,213,244,274,305,335], datum.value)]","labelFontSize":10.5,"labelPadding":18.5,"labelBaseline":"alphabetic","labelFlush":false,"labelOverlap":false,"title":"Month","titleFontSize":13.3,"titleBaseline":"alphabetic","titleY":29.5,"grid":true,"domain":true,"ticks":true,"tickSize":-3,"zindex":1}},"y":{"datum":50,"type":"quantitative","axis":{"values":[0,25,50,75,100],"grid":true,"domain":false,"ticks":false,"labelPadding":4,"title":null,"zindex":1}},"text":{"field":"t","type":"nominal"}}}
  ]},
  {"layer":[
   {"data":{"name":"ship"},"transform":[{"filter":"datum.y==2021"}],"mark":{"type":"bar","orient":"vertical","color":"#ff1a1a","width":1.3,"stroke":"#c40000","strokeWidth":0.3},"encoding":{"x":{"field":"d","type":"quantitative","axis":{"values":[1,32,60,91,121,152,182,213,244,274,305,335],"labels":true,"labelExpr":"['Jan','Feb','Mar','Apr','May','Jun','Jul','Aug','Sep','Oct','Nov','Dec'][indexof([1,32,60,91,121,152,182,213,244,274,305,335], datum.value)]","labelFontSize":10.5,"labelPadding":18.5,"labelBaseline":"alphabetic","labelFlush":false,"labelOverlap":false,"title":"Month","titleFontSize":13.3,"titleBaseline":"alphabetic","titleY":29.5,"grid":true,"domain":true,"ticks":true,"tickSize":-3,"zindex":1}},"y":{"field":"v","type":"quantitative","scale":{"domain":[0,24],"nice":false,"padding":0},"axis":{"orient":"right","values":[0,6,12,18,24],"grid":false,"domain":false,"ticks":false,"labelPadding":4,"title":null}}}},
   {"data":{"name":"nar"},"transform":[{"filter":"datum.y==2021"}],"mark":{"type":"line","color":"#1a1a1a","strokeWidth":1.2},"encoding":{"x":{"field":"d","type":"quantitative","axis":{"values":[1,32,60,91,121,152,182,213,244,274,305,335],"labels":true,"labelExpr":"['Jan','Feb','Mar','Apr','May','Jun','Jul','Aug','Sep','Oct','Nov','Dec'][indexof([1,32,60,91,121,152,182,213,244,274,305,335], datum.value)]","labelFontSize":10.5,"labelPadding":18.5,"labelBaseline":"alphabetic","labelFlush":false,"labelOverlap":false,"title":"Month","titleFontSize":13.3,"titleBaseline":"alphabetic","titleY":29.5,"grid":true,"domain":true,"ticks":true,"tickSize":-3,"zindex":1}},"y":{"field":"v","type":"quantitative","axis":{"orient":"right","values":[0,6,12,18,24],"grid":false,"domain":false,"ticks":false,"labelPadding":4,"title":null}},"detail":{"field":"s","type":"nominal"}}}
  ]}
 ],
 "resolve":{"scale":{"y":"independent"}}
}
]
}
